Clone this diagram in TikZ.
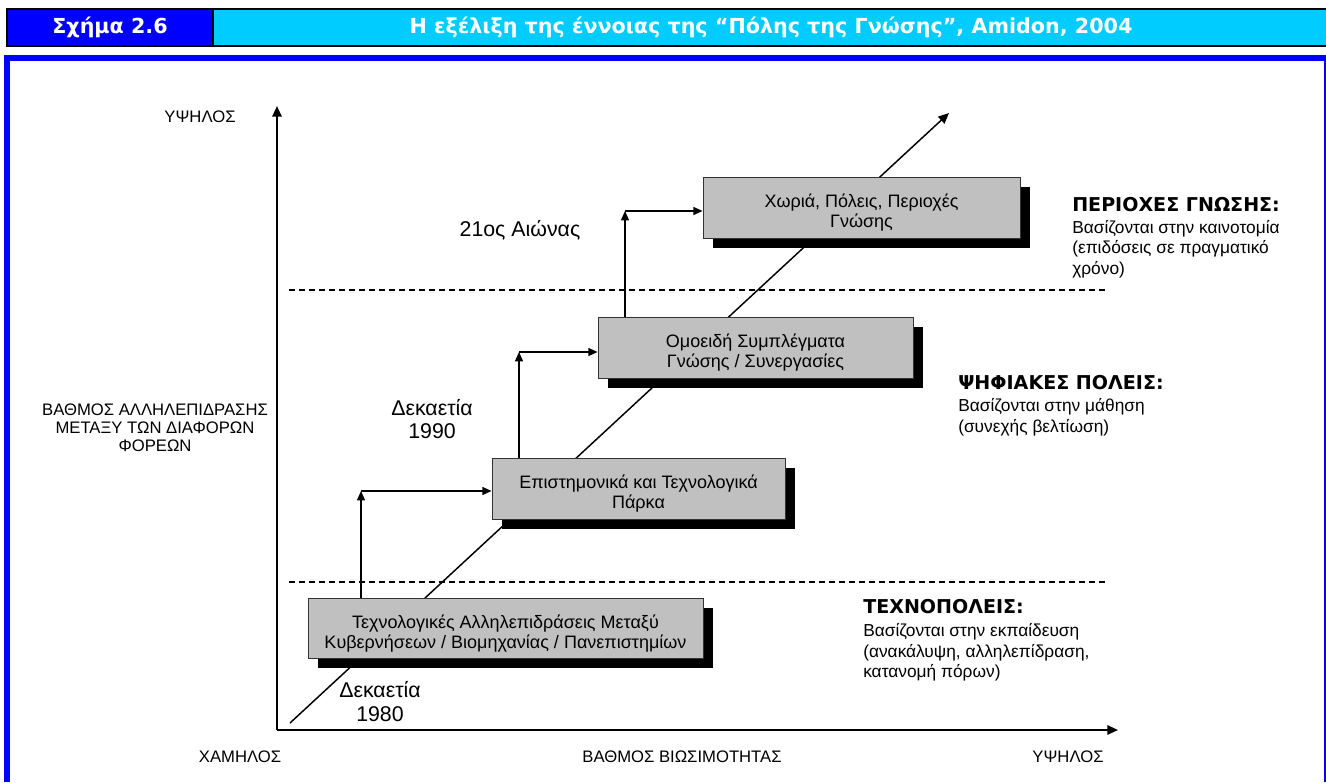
\documentclass[tikz,border=0pt]{standalone}
\usepackage{fontspec}
\setmainfont{Liberation Sans}
\newfontfamily\hdrfont{DejaVu Sans}
\usetikzlibrary{arrows.meta,shadows}
\definecolor{hblue}{HTML}{0000FF}
\definecolor{hcyan}{HTML}{00CCFF}
\definecolor{boxgray}{HTML}{C0C0C0}
\tikzset{
  hdr/.style={text=white,font=\hdrfont\bfseries\fontsize{15.5}{18}\selectfont,inner sep=0pt},
  gbox/.style={draw=black!80,line width=0.6pt,fill=boxgray,align=center,inner sep=2pt,
     font=\fontsize{13.5}{15}\selectfont,text height=30pt,text depth=0pt,
     general shadow={fill=black,shadow xshift=7.5pt,shadow yshift=-7.5pt}},
  axisline/.style={line width=1.5pt,-{Triangle[length=8pt,width=7pt]}},
  arr/.style={line width=1.1pt,-{Triangle[length=7pt,width=6pt]}},
  diag/.style={line width=1.1pt,-{Triangle[length=8pt,width=7pt]}},
  dashline/.style={line width=0.9pt,dash pattern=on 4.5pt off 3pt},
  lab/.style={font=\fontsize{12.5}{13.5}\selectfont,inner sep=0pt},
  dec/.style={font=\fontsize{16}{17.5}\selectfont,align=center,inner sep=0pt},
  rtitle/.style={font=\hdrfont\bfseries\fontsize{14.3}{15}\selectfont,anchor=west,inner sep=0pt},
  rtext/.style={font=\fontsize{13}{15.5}\selectfont,anchor=north west,align=left,inner sep=0pt},
}
\begin{document}
\begin{tikzpicture}[x=0.75pt,y=-0.75pt]
\useasboundingbox (0,0) rectangle (1326,782);
% header
\fill[black] (6,8) rectangle (1326,47);
\fill[hblue] (8,10) rectangle (212,45);
\fill[hcyan] (214,10) rectangle (1326,45);
\node[hdr] (h1) at (110,27.5) {Σχήμα 2.6};
\node[hdr] (h2) at (771,27.5) {Η εξέλιξη της έννοιας της “Πόλης της Γνώσης”, Amidon, 2004};
% frame
\fill[hblue] (4,55) rectangle (1326,61);
\fill[hblue] (4,55) rectangle (10,782);
\fill[hblue] (1324,55) rectangle (1326,782);
% coordinates
\coordinate (O) at (277,730);
\coordinate (Ytop) at (277,106);
\coordinate (Xend) at (1118,730);
\coordinate (D0) at (290,723);
\coordinate (D1) at (949,113);
\coordinate (L1a) at (289,290);
\coordinate (L1b) at (1108,290);
\coordinate (L2a) at (289,582);
\coordinate (L2b) at (1108,582);
% dashed lines
\draw[dashline] (L1a) -- (L1b);
\draw[dashline] (L2a) -- (L2b);
% diagonal
\draw[diag] (D0) -- (D1);
% axes
\draw[axisline] (O) -- (Ytop);
\draw[axisline] (O) -- (Xend);
% boxes
\node[gbox,minimum width=296.25pt,minimum height=45pt] (b1) at (505.5,628)
  {Τεχνολογικές Αλληλεπιδράσεις Μεταξύ\\Κυβερνήσεων / Βιομηχανίας / Πανεπιστημίων};
\node[gbox,minimum width=219.75pt,minimum height=45.75pt] (b2) at (638.5,488.5)
  {Επιστημονικά και Τεχνολογικά\\Πάρκα};
\node[gbox,minimum width=236.25pt,minimum height=45.75pt] (b3) at (755.5,347.5)
  {Ομοειδή Συμπλέγματα\\Γνώσης / Συνεργασίες};
\node[gbox,minimum width=237.75pt,minimum height=45.75pt] (b4) at (861.5,207.5)
  {Χωριά, Πόλεις, Περιοχές\\Γνώσης};
% step arrows
\coordinate (c1) at (361,491);
\coordinate (c2) at (519,352);
\coordinate (c3) at (625,211);
\draw[arr] (b1.north -| c1) -- (c1);
\draw[arr] (c1) -- (c1 -| b2.west);
\draw[arr] (b2.north -| c2) -- (c2);
\draw[arr] (c2) -- (c2 -| b3.west);
\draw[arr] (b3.north -| c3) -- (c3);
\draw[arr] (c3) -- (c3 -| b4.west);
% axis labels
\node[lab] (yh) at (200,117) {ΥΨΗΛΟΣ};
\node[lab] (xl) at (240,757) {ΧΑΜΗΛΟΣ};
\node[lab] (xm) at (682,757) {ΒΑΘΜΟΣ ΒΙΩΣΙΜΟΤΗΤΑΣ};
\node[lab] (xh) at (1068,757) {ΥΨΗΛΟΣ};
\node[lab,align=center] (yl) at (155,428) {ΒΑΘΜΟΣ ΑΛΛΗΛΕΠΙΔΡΑΣΗΣ\\ΜΕΤΑΞΥ ΤΩΝ ΔΙΑΦΟΡΩΝ\\ΦΟΡΕΩΝ};
% decades
\node[dec] (d80) at (380,701.5) {Δεκαετία\\1980};
\node[dec] (d90) at (432,419) {Δεκαετία\\1990};
\node[dec] (d21) at (520,230) {21ος Αιώνας};
% right texts
\node[rtitle] (r1) at (1072,205) {ΠΕΡΙΟΧΕΣ ΓΝΩΣΗΣ:};
\node[rtext] (r1t) at (1072,220) {Βασίζονται στην καινοτομία\\(επιδόσεις σε πραγματικό\\χρόνο)};
\node[rtitle] (r2) at (958,383) {ΨΗΦΙΑΚΕΣ ΠΟΛΕΙΣ:};
\node[rtext] (r2t) at (958,398) {Βασίζονται στην μάθηση\\(συνεχής βελτίωση)};
\node[rtitle] (r3) at (863,607) {ΤΕΧΝΟΠΟΛΕΙΣ:};
\node[rtext] (r3t) at (863,623) {Βασίζονται στην εκπαίδευση\\(ανακάλυψη, αλληλεπίδραση,\\κατανομή πόρων)};
\end{tikzpicture}
\end{document}
